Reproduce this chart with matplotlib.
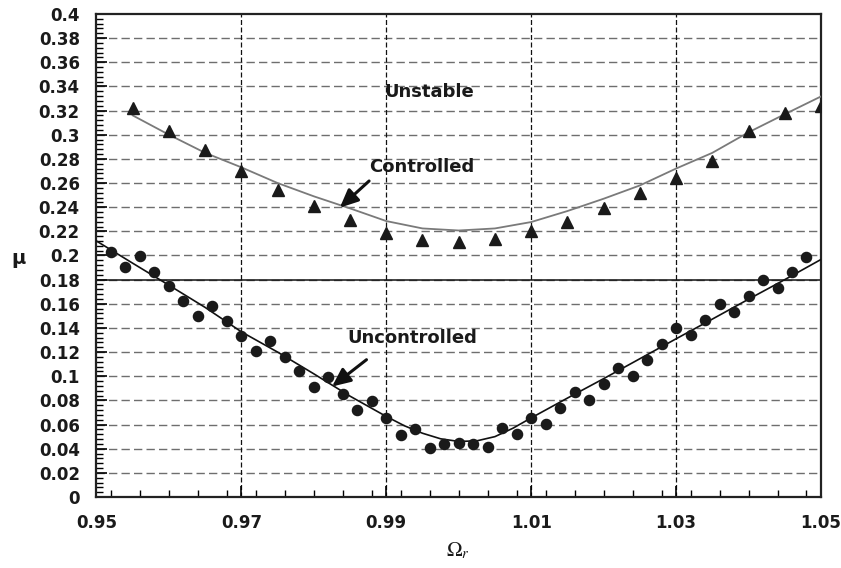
import numpy as np
import matplotlib
matplotlib.use("Agg")
import matplotlib.pyplot as plt
from matplotlib.ticker import MultipleLocator, FixedLocator, FuncFormatter

plt.rcParams['font.family'] = ['DejaVu Sans']
plt.rcParams['mathtext.fontset'] = 'stix'

# ---- data ----
ctrl_x = [0.955, 0.96, 0.965, 0.97, 0.975, 0.98, 0.985, 0.99, 0.995, 1.0,
          1.005, 1.01, 1.015, 1.02, 1.025, 1.03, 1.035, 1.04, 1.045, 1.05]
ctrl_pts = [0.322, 0.303, 0.287, 0.270, 0.254, 0.241, 0.229, 0.219, 0.213, 0.211,
            0.214, 0.220, 0.228, 0.239, 0.2515, 0.264, 0.2786, 0.303, 0.318, 0.324]
ctrl_fit = [0.316, 0.300, 0.285, 0.273, 0.260, 0.249, 0.239, 0.2285, 0.2224, 0.2207,
            0.2224, 0.2277, 0.2368, 0.247, 0.258, 0.272, 0.285, 0.302, 0.317, 0.3317]

unc_x = [0.952, 0.954, 0.956, 0.958, 0.960, 0.962, 0.964, 0.966, 0.968, 0.970,
         0.972, 0.974, 0.976, 0.978, 0.980, 0.982, 0.984, 0.986, 0.988, 0.990,
         0.992, 0.994, 0.996, 0.998, 1.000, 1.002, 1.004, 1.006, 1.008, 1.010,
         1.012, 1.014, 1.016, 1.018, 1.020, 1.022, 1.024, 1.026, 1.028, 1.030,
         1.032, 1.034, 1.036, 1.038, 1.040, 1.042, 1.044, 1.046, 1.048]
unc_pts = [0.2027, 0.1903, 0.1994, 0.1867, 0.1745, 0.1627, 0.1502, 0.1579, 0.1461, 0.1336,
           0.1212, 0.1292, 0.1162, 0.1040, 0.0910, 0.0990, 0.0855, 0.0722, 0.0791, 0.0655,
           0.0515, 0.0567, 0.0407, 0.0437, 0.0445, 0.0440, 0.0410, 0.0570, 0.0520, 0.0658,
           0.0603, 0.0733, 0.0869, 0.0802, 0.0938, 0.1070, 0.1004, 0.1137, 0.1267, 0.1400,
           0.1339, 0.1466, 0.1599, 0.1533, 0.1662, 0.1795, 0.1732, 0.1861, 0.1989]

unc_fit_x = [0.95, 0.955, 0.96, 0.965, 0.97, 0.975, 0.98, 0.985, 0.99, 0.9925, 0.995,
             0.9975, 1.0, 1.0025, 1.005, 1.0075, 1.01, 1.015, 1.02, 1.025, 1.03, 1.035,
             1.04, 1.045, 1.05]
unc_fit = [0.212, 0.1936, 0.1754, 0.157, 0.1368, 0.120, 0.102, 0.0835, 0.0667, 0.0590, 0.0528,
           0.0482, 0.0460, 0.0465, 0.0500, 0.0570, 0.0655, 0.0819, 0.098, 0.1145, 0.131, 0.1473,
           0.1638, 0.180, 0.1967]

threshold = 0.18

x_ticks = [0.95, 0.97, 0.99, 1.01, 1.03, 1.05]
x_ticklabels = ['0.95', '0.97', '0.99', '1.01', '1.03', '1.05']
y_ticks = [round(0.02 * i, 2) for i in range(21)]

fig = plt.figure(figsize=(8.41, 5.68), dpi=100)
ax = fig.add_axes([0.1147, 0.125, 0.8615, 0.8504])

ax.set_xlim(0.95, 1.05)
ax.set_ylim(0, 0.4)

# grid
for yv in y_ticks[1:-1]:
    ax.axhline(yv, color='#6e6e6e', lw=1.0, dashes=(6, 3), zorder=1)
for xv in x_ticks[1:-1]:
    ax.axvline(xv, color='#111111', lw=0.9, dashes=(4, 2), zorder=1)
ax.axhline(threshold, color='#111111', lw=1.1, zorder=2)

# curves
ax.plot(ctrl_x, ctrl_fit, color='#7a7a7a', lw=1.3, zorder=3)
ax.plot(unc_fit_x, unc_fit, color='#111111', lw=1.2, zorder=3)
ax.plot(ctrl_x, ctrl_pts, linestyle='none', marker='^', ms=9, color='#1a1a1a', zorder=4)
ax.plot(unc_x, unc_pts, linestyle='none', marker='o', ms=7.3, color='#1a1a1a', zorder=4)

# annotations
ax.text(0.9898, 0.3353, 'Unstable', fontsize=13, fontweight='bold', color='#1a1a1a',
        ha='left', va='center')
ax.text(0.9877, 0.273, 'Controlled', fontsize=13, fontweight='bold', color='#1a1a1a',
        ha='left', va='center')
ax.text(0.9847, 0.132, 'Uncontrolled', fontsize=13, fontweight='bold', color='#1a1a1a',
        ha='left', va='center')
arrowprops = dict(arrowstyle='-|>,head_length=1.1,head_width=0.5', color='#111111', lw=2.2,
                  shrinkA=0, shrinkB=0)
ax.annotate('', xy=(0.98359, 0.2396), xytext=(0.98763, 0.2617), arrowprops=arrowprops, zorder=5)
ax.annotate('', xy=(0.98252, 0.0915), xytext=(0.98727, 0.1137), arrowprops=arrowprops, zorder=5)

# ticks
ax.xaxis.set_major_locator(FixedLocator(x_ticks))
ax.set_xticklabels(x_ticklabels)
ax.xaxis.set_minor_locator(MultipleLocator(0.004))
ax.yaxis.set_major_locator(FixedLocator(y_ticks))
ax.yaxis.set_major_formatter(FuncFormatter(lambda v, p: '%g' % round(v, 2)))
ax.yaxis.set_minor_locator(MultipleLocator(0.004))
ax.tick_params(which='both', direction='in', top=False, right=False)
ax.tick_params(which='major', length=8, width=1.2, pad=12, labelsize=12)
ax.tick_params(which='minor', length=5, width=1.0)
for lab in ax.get_xticklabels() + ax.get_yticklabels():
    lab.set_fontweight('bold')
    lab.set_color('#1a1a1a')

for s in ax.spines.values():
    s.set_linewidth(1.6)
    s.set_color('#222222')

fig.text(18.5 / 841, 1 - 259 / 568, 'μ', fontsize=14, fontweight='bold', ha='center', va='center',
         color='#1a1a1a')
fig.text(458 / 841, 1 - 551 / 568, r'$\Omega_r$', fontsize=15, ha='center', va='center',
         color='#1a1a1a')

fig.savefig('out.png', dpi=100)
